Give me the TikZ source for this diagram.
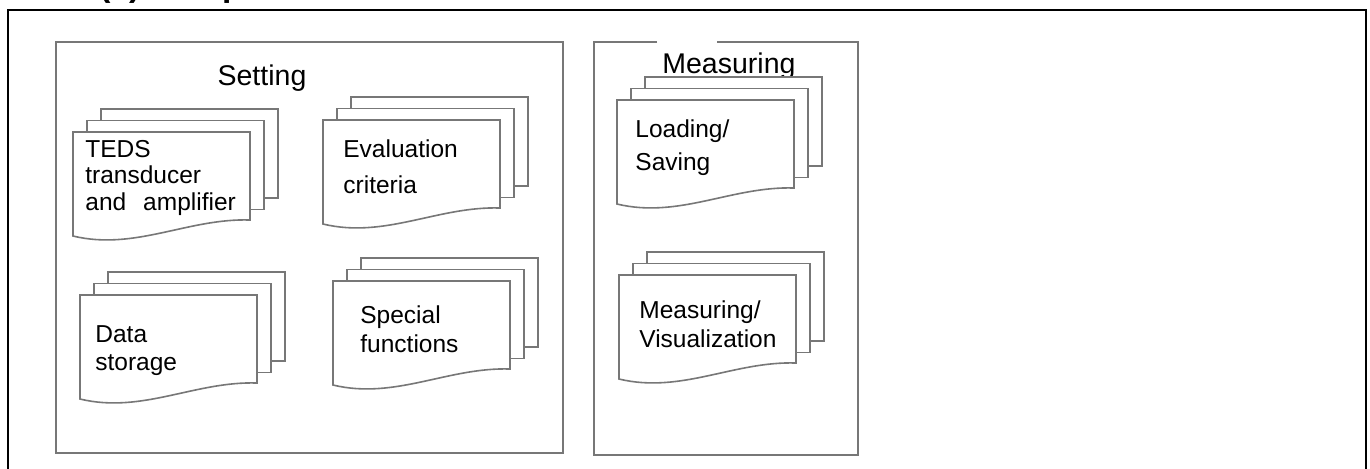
\documentclass[tikz,border=0pt]{standalone}
\usepackage{fontspec}
\setmainfont{Liberation Sans}
\definecolor{ln}{HTML}{777777}
\newcommand\docstack[2]{%
  \begin{scope}[shift={(#1,#2)}]
    \filldraw[sheet] (28,-23) rectangle (205,66);
    \filldraw[sheet] (14,-11.5) rectangle (191,77.5);
    \filldraw[sheet] (0,0) -- (177,0) -- (177,88)
      .. controls (115,86) and (62,119) .. (0,104) -- cycle;
  \end{scope}}
\begin{document}
\begin{tikzpicture}[x=0.5pt,y=-0.5pt,
  sheet/.style={draw=ln,line width=0.8pt,fill=white,line join=miter},
  boxline/.style={draw=ln,line width=1pt},
  frameline/.style={draw=black,line width=1.1pt},
  lbl/.style={inner sep=0pt,anchor=base west,align=left,font=\fontsize{12.25}{14}\selectfont},
  ttl/.style={inner sep=0pt,font=\fontsize{14.25}{17}\selectfont}]
\useasboundingbox (0,0) rectangle (1370,468);
\fill[white] (0,0) rectangle (1370,468);

% clipped heading
\node[inner sep=0pt,anchor=base west,font=\bfseries\fontsize{16.75}{20}\selectfont] (head) at (99,-4) {(a) Setup};

% outer frame
\draw[frameline] (8,480) -- (8,10) -- (1366,10) -- (1366,480);

% group boxes
\draw[boxline] (56,42) rectangle (563,453);
\draw[boxline] (657,42) -- (594,42) -- (594,455) -- (858,455) -- (858,42) -- (717,42);

\node[ttl,anchor=base] (setting) at (262,85) {Setting};
\node[ttl,anchor=base west] (measuring) at (662,73) {Measuring};

% stacks
\docstack{73}{132}
\docstack{323}{120}
\docstack{80}{295}
\docstack{333}{281}
\docstack{617}{100}
\docstack{619}{275}

\node[lbl,font=\fontsize{12.25}{13.25}\selectfont] (teds) at (85,210) {TEDS\\transducer\\and\hspace{8.5pt}amplifier};
\node[lbl] (eval) at (343,193) {Evaluation\\[4pt]criteria};
\node[lbl] (data) at (95,370) {Data\\storage};
\node[lbl] (special) at (360,352) {Special\\[0.5pt]functions};
\node[lbl] (load) at (635,170) {Loading/\\[2.5pt]Saving};
\node[lbl] (measvis) at (639,347) {Measuring/\\[0.5pt]Visualization};
\end{tikzpicture}
\end{document}
